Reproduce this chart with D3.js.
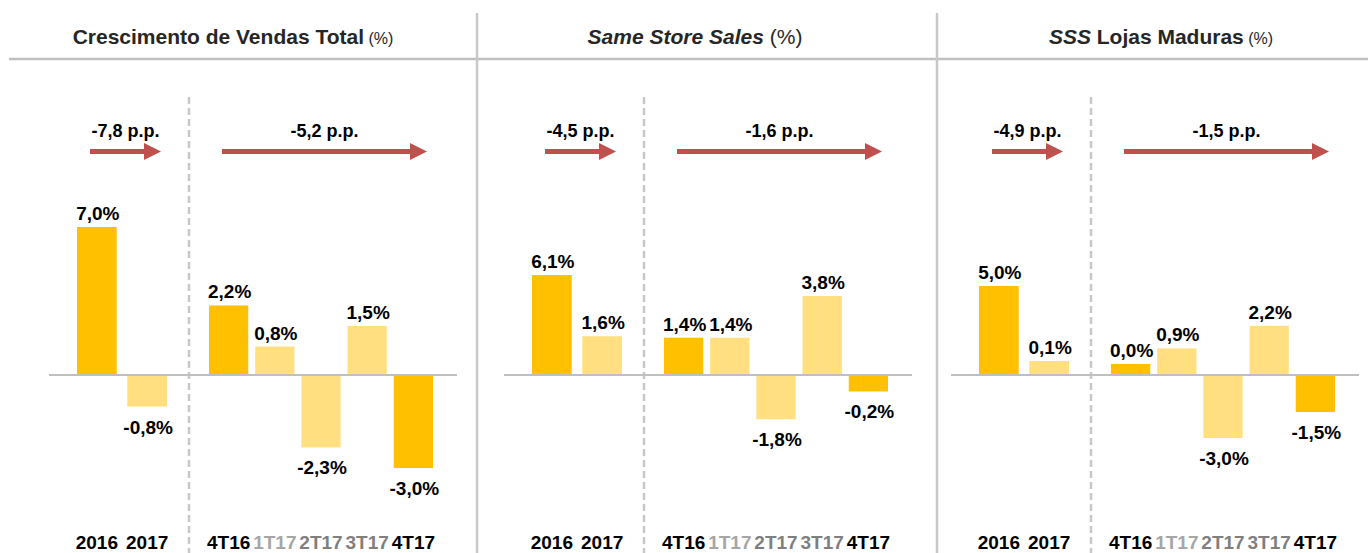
<!DOCTYPE html>
<html lang="pt">
  <head>
    <meta charset="utf-8">
    <title>Vendas</title>
    <style>
      body { margin: 0; background: #fff; }
      svg { display: block; font-family: "Liberation Sans", Arial, sans-serif; }
    </style>
    <script src="https://cdnjs.cloudflare.com/ajax/libs/d3/7.8.5/d3.min.js"></script>
  </head>
  <body>
    <script>
      // data
      const years = ['2016', '2017'];
      const quarters = ['4T16', '1T17', '2T17', '3T17', '4T17'];

      const totalYears = [7.0, -0.8];
      const totalQuarters = [2.2, 0.8, -2.3, 1.5, -3.0];
      const sssYears = [6.1, 1.6];
      const sssQuarters = [1.4, 1.4, -1.8, 3.8, -0.2];
      const maturesYears = [5.0, 0.1];
      const maturesQuarters = [0.0, 0.9, -3.0, 2.2, -1.5];

      const yearDeltas = [-7.8, -4.5, -4.9];
      const quarterDeltas = [-5.2, -1.6, -1.5];

      const width = 1368, height = 553;
      const zeroY = 375;

      // layout per panel: left edge of baseline, bar height ranges (px) per group
      const panels = [
        { yearVals: totalYears, quarterVals: totalQuarters, x0: 49, yearH: [16.5, 148], quarterH: [5, 93], titleX: 233 },
        { yearVals: sssYears, quarterVals: sssQuarters, x0: 504, yearH: [17, 100], quarterH: [13, 79], titleX: 695 },
        { yearVals: maturesYears, quarterVals: maturesQuarters, x0: 951, yearH: [12.5, 89], quarterH: [11, 63], titleX: 1161 }
      ];

      const dark = '#ffc000', light = '#ffdf80';
      const darkLabels = ['2016', '4T16', '4T17'];
      const tickColors = { '1T17': '#a6a6a6', '2T17': '#7f7f7f', '3T17': '#7f7f7f' };
      const num = v => v.toFixed(1).replace('.', ',');
      const ppFormat = v => num(v) + ' p.p.';
      const pctFormat = v => num(v) + '%';

      const svg = d3.select('body').append('svg')
        .attr('width', width)
        .attr('height', height);

      // header rule and solid dividers
      svg.append('line')
        .attr('x1', 9).attr('x2', width).attr('y1', 59).attr('y2', 59)
        .attr('stroke', '#c0c0c0').attr('stroke-width', 2.5);
      [477, 937].forEach(x => {
        svg.append('line')
          .attr('x1', x).attr('x2', x).attr('y1', 13).attr('y2', height)
          .attr('stroke', '#c8c8c8').attr('stroke-width', 2.5);
      });

      // titles
      const titleParts = [
        [{ t: 'Crescimento de Vendas Total', w: 'bold', s: 'normal', z: 21 }, { t: ' (%)', w: 'normal', s: 'normal', z: 16 }],
        [{ t: 'Same Store Sales', w: 'bold', s: 'italic', z: 21 }, { t: ' (%)', w: 'normal', s: 'normal', z: 21 }],
        [{ t: 'SSS', w: 'bold', s: 'italic', z: 21 }, { t: ' Lojas Maduras', w: 'bold', s: 'normal', z: 21 }, { t: ' (%)', w: 'normal', s: 'normal', z: 16 }]
      ];

      panels.forEach((p, i) => {
        const g = svg.append('g');

        const title = g.append('text')
          .attr('x', p.titleX).attr('y', 44)
          .attr('text-anchor', 'middle')
          .attr('fill', '#262626');
        titleParts[i].forEach(part => {
          title.append('tspan')
            .attr('font-weight', part.w)
            .attr('font-style', part.s)
            .attr('font-size', part.z)
            .attr('xml:space', 'preserve')
            .text(part.t);
        });

        const xYear = d3.scaleBand().domain(years)
          .range([p.x0 + 28, p.x0 + 118]).paddingInner(0.21);
        const xQuarter = d3.scaleBand().domain(quarters)
          .range([p.x0 + 160, p.x0 + 384]).paddingInner(0.15);

        // dashed divider between years and quarters
        const dashX = p.x0 + 140;
        g.append('line')
          .attr('x1', dashX).attr('x2', dashX).attr('y1', 97).attr('y2', height)
          .attr('stroke', '#c8c8c8').attr('stroke-width', 2.5)
          .attr('stroke-dasharray', '7,4');

        const groups = [
          { x: xYear, cats: years, vals: p.yearVals, delta: yearDeltas[i], hr: p.yearH },
          { x: xQuarter, cats: quarters, vals: p.quarterVals, delta: quarterDeltas[i], hr: p.quarterH }
        ];

        groups.forEach(grp => {
          const rows = grp.cats.map((c, k) => ({ c, v: grp.vals[k] }));
          const mag = d3.scaleLinear()
            .domain([0, d3.max(grp.vals, Math.abs)])
            .range(grp.hr);
          const h = d => mag(Math.abs(d.v));

          g.selectAll(null).data(rows).enter().append('rect')
            .attr('x', d => grp.x(d.c))
            .attr('width', grp.x.bandwidth())
            .attr('y', d => d.v >= 0 ? zeroY - h(d) : zeroY)
            .attr('height', h)
            .attr('fill', d => darkLabels.includes(d.c) ? dark : light);

          g.selectAll(null).data(rows).enter().append('text')
            .attr('x', d => grp.x(d.c) + grp.x.bandwidth() / 2 + 1)
            .attr('y', d => d.v >= 0 ? zeroY - h(d) - 7 : zeroY + h(d) + 27)
            .attr('text-anchor', 'middle')
            .attr('font-size', 19).attr('font-weight', 'bold')
            .attr('fill', '#000')
            .text(d => pctFormat(d.v));

          // arrow
          const a0 = grp.x(grp.cats[0]) + 13;
          const a1 = grp.x(grp.cats[grp.cats.length - 1]) + grp.x.bandwidth() - 6;
          const ay = 151.5;
          g.append('rect')
            .attr('x', a0).attr('y', ay - 2.5)
            .attr('width', a1 - 17 - a0).attr('height', 5)
            .attr('fill', '#c0504d');
          g.append('path')
            .attr('d', `M${a1 - 17},${ay - 8.5}L${a1},${ay}L${a1 - 17},${ay + 8.5}Z`)
            .attr('fill', '#c0504d');
          g.append('text')
            .attr('x', (a0 + a1) / 2).attr('y', 137)
            .attr('text-anchor', 'middle')
            .attr('font-size', 18).attr('font-weight', 'bold')
            .attr('fill', '#000')
            .text(ppFormat(grp.delta));

          // category axis
          const axis = g.append('g')
            .attr('transform', `translate(0,535.5)`)
            .call(d3.axisBottom(grp.x).tickSize(0).tickPadding(0));
          axis.select('.domain').remove();
          axis.selectAll('text')
            .attr('font-size', 19).attr('font-weight', 'bold')
            .attr('font-family', '"Liberation Sans", Arial, sans-serif')
            .attr('fill', d => tickColors[d] || '#000');
        });

        // zero line
        g.append('line')
          .attr('x1', p.x0).attr('x2', p.x0 + 408)
          .attr('y1', zeroY).attr('y2', zeroY)
          .attr('stroke', '#bfbfbf').attr('stroke-width', 2);
      });
    </script>
  </body>
</html>
